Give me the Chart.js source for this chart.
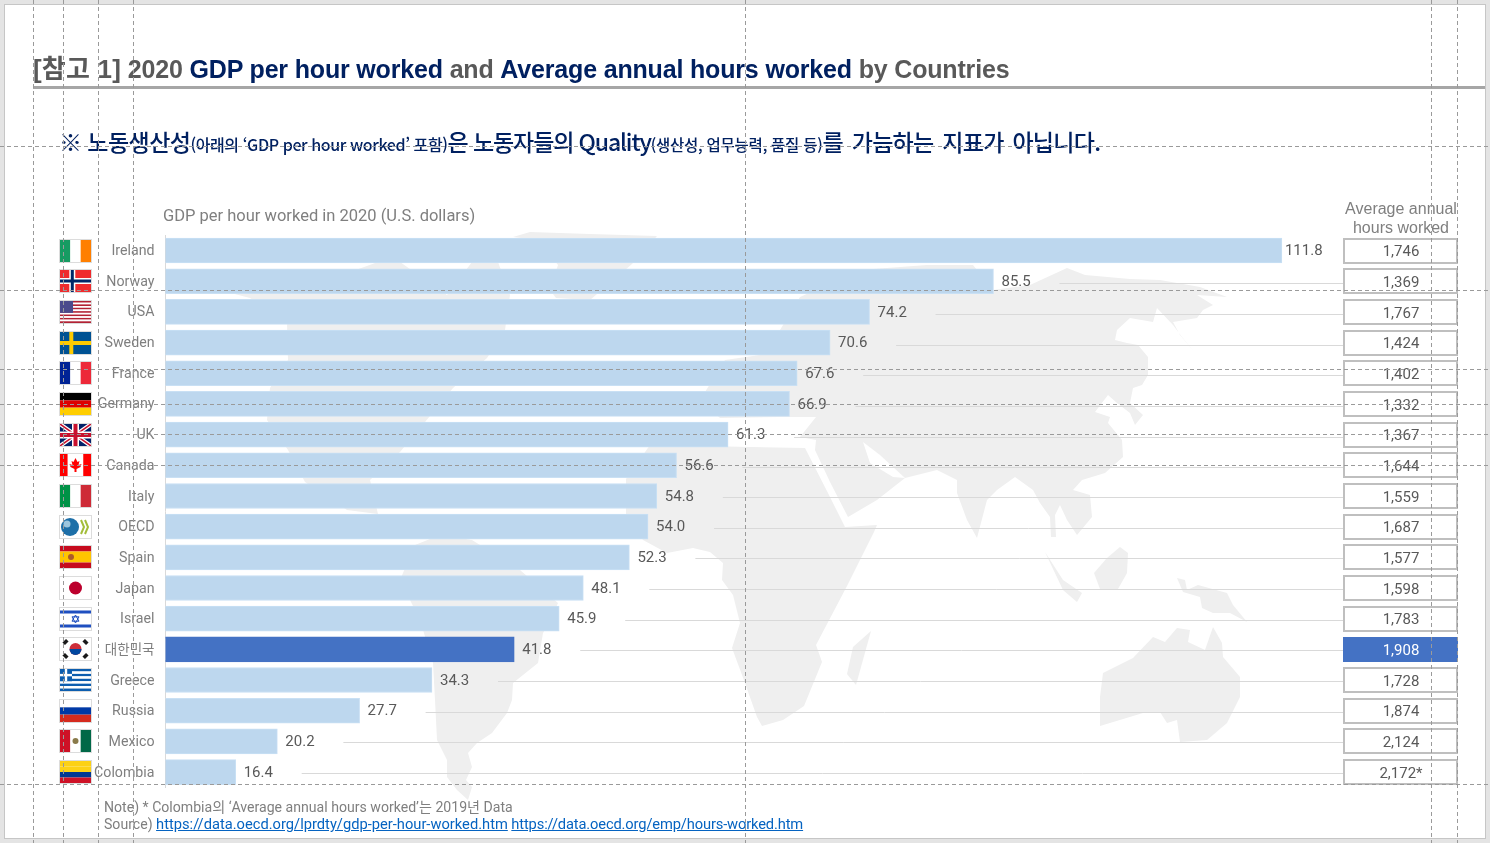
<!DOCTYPE html>
<html lang="ko">
<head>
<meta charset="utf-8">
<title>2020 GDP per hour worked</title>
<script src="https://cdn.jsdelivr.net/npm/chart.js"></script>
<style>
    html, body { margin: 0; padding: 0; width: 1490px; height: 843px; overflow: hidden; background: #e4e4e4; }
    #slide { position: absolute; left: 4px; top: 4px; width: 1480px; height: 833px; background: #fff; border: 1px solid #c6c6c6; }
    #map, #chart, #guides { position: absolute; left: 0; top: 0; }
    #guides { pointer-events: none; }
    .txt { position: absolute; white-space: nowrap; }
    #title { left: 33px; top: 48px; font: bold 25px "Liberation Sans", "Noto Sans CJK KR", sans-serif; color: #595959; letter-spacing: -0.17px; }
    #title b { color: #002060; }
    #title .tag { font-size: 26px; letter-spacing: 0.2px; }
    #rule { position: absolute; left: 33px; top: 86px; width: 1452px; height: 3px; background: #a6a6a6; }
    #notice { left: 59px; top: 124px; font: 500 23px "Noto Sans CJK KR", sans-serif; color: #002060; letter-spacing: -0.55px; }
    #notice .s1 { font-size: 16px; letter-spacing: -0.4px; }
    #notice .mid { letter-spacing: -1.1px; }
    #notice .s2 { font-size: 15.5px; letter-spacing: -0.25px; }
    #notice .tail { letter-spacing: -0.7px; word-spacing: 3px; }
    #gdpHead { left: 163px; top: 206px; font: 16.5px Roboto, "Noto Sans CJK KR", sans-serif; color: #7f7f7f; }
    #hoursHead { left: 1331px; width: 140px; top: 199px; text-align: center; font: 16px/19px "Liberation Sans", sans-serif; color: #7f7f7f; }
    #note { left: 104px; top: 799px; font: 14.1px/17px Roboto, "Noto Sans CJK KR", sans-serif; color: #7f7f7f; }
    #note a { color: #0563c1; text-decoration: underline; font-size: 14.7px; }
    #note a.second { letter-spacing: -0.14px; }
</style>
</head>
<body>
<div id="slide"></div>

<!-- world map behind the bars -->
<svg id="map" width="1490" height="843" fill="#efefef">
    <path d="M513 237L530 232L590 234L657 236L632 264L590 300L556 298L550 290L558 265L540 240Z"/>
    <path d="M227 292L300 290L378 262L400 262L447 295L472 262L498 262L510 295L505 330L487 358L453 388L425 422L400 452L370 480L378 514L347 510L305 482L288 450L267 420L270 388L288 360L287 322L250 298Z"/>
    <path d="M440 535L472 540L520 570L558 603L548 625L543 633L538 663L513 683L512 700L507 713L492 733L477 743L468 753L472 767L466 780L472 787L468 800L457 790L447 777L447 760L437 740L435 700L433 663L420 620L400 580L415 545Z"/>
    <path d="M720 418L700 400L725 360L760 355L780 330L800 297L860 270L927 265L973 265L993 290L1030 285L1067 268L1085 275L1130 279L1160 280L1200 287L1227 297L1197 295L1213 305L1203 310L1197 318L1173 322L1180 335L1195 353L1182 337L1173 325L1157 308L1153 322L1130 318L1117 330L1115 340L1127 343L1138 345L1148 357L1148 375L1142 385L1133 388L1130 403L1143 415L1135 425L1130 413L1117 403L1108 395L1095 412L1110 417L1108 423L1122 440L1123 457L1105 473L1082 480L1073 490L1090 495L1092 517L1077 535L1067 520L1060 505L1055 515L1056 537L1051 537L1050 517L1040 503L1033 490L1015 477L997 490L987 500L977 538L967 520L957 493L957 480L937 470L905 478L877 500L848 517L830 482L815 450L816 440L800 437L816 417L780 417Z"/>
    <path d="M863 442L870 463L893 477L905 478L880 455Z" fill="#fff"/>
    <path d="M650 445L805 448L830 497L845 527L877 525L874 532L847 586L816 645L822 662L804 706L783 720L762 726L757 717L745 683L732 648L740 623L733 595L722 580L723 563L710 552L693 548L667 553L643 540L626 515L626 479Z"/>
    <path d="M871 631L856 685L847 674L853 647Z"/>
    <path d="M1045 552L1063 580L1082 593L1077 602L1063 590Z"/>
    <path d="M1120 547L1128 553L1127 573L1118 589L1100 589L1094 573L1107 558Z"/>
    <path d="M1177 578L1185 580L1187 590L1198 585L1227 593L1233 605L1247 622L1230 613L1213 613L1202 608L1200 597L1183 592Z"/>
    <path d="M1103 673L1133 658L1153 637L1165 642L1177 628L1190 630L1188 642L1205 650L1213 627L1222 643L1223 657L1240 677L1240 697L1227 723L1207 740L1180 742L1177 720L1167 723L1160 712L1143 713L1100 726L1100 697Z"/>
</svg>

<canvas id="chart" width="1490" height="843"></canvas>

<div id="title" class="txt"><span class="tag">[참고 1]</span> 2020 <b>GDP per hour worked</b> and <b>Average annual hours worked</b> by Countries</div>
<div id="rule"></div>
<div id="notice" class="txt">※ 노동생산성<span class="s1">(아래의 ‘GDP per hour worked’ 포함)</span><span class="mid">은 노동자들의 Quality</span><span class="s2">(생산성, 업무능력, 품질 등)</span><span class="tail">를 가늠하는 지표가 아닙니다.</span></div>
<div id="gdpHead" class="txt">GDP per hour worked in 2020 (U.S. dollars)</div>
<div id="hoursHead" class="txt">Average annual<br>hours worked</div>
<div id="note" class="txt">Note) * Colombia의 ‘Average annual hours worked’는 2019년 Data<br>Source) <a href="https://data.oecd.org/lprdty/gdp-per-hour-worked.htm">https://data.oecd.org/lprdty/gdp-per-hour-worked.htm</a> <a class="second" href="https://data.oecd.org/emp/hours-worked.htm">https://data.oecd.org/emp/hours-worked.htm</a></div>

<svg id="guides" width="1490" height="843"></svg>

<script>
    'use strict';

    const categories = ['Ireland', 'Norway', 'USA', 'Sweden', 'France', 'Germany', 'UK', 'Canada', 'Italy', 'OECD', 'Spain', 'Japan', 'Israel', '대한민국', 'Greece', 'Russia', 'Mexico', 'Colombia'];
    const gdpPerHour = [111.8, 85.5, 74.2, 70.6, 67.6, 66.9, 61.3, 56.6, 54.8, 54.0, 52.3, 48.1, 45.9, 41.8, 34.3, 27.7, 20.2, 16.4];
    const annualHours = ['1,746', '1,369', '1,767', '1,424', '1,402', '1,332', '1,367', '1,644', '1,559', '1,687', '1,577', '1,598', '1,783', '1,908', '1,728', '1,874', '2,124', '2,172*'];

    const guideXs = [33, 63, 98, 133, 745, 1431, 1457];
    const guideYs = [146, 290, 369, 404, 434, 465, 784];

    const HIGHLIGHT = '대한민국';
    const LIGHT_BAR = '#bdd7ee';
    const DARK_BAR = '#4472c4';
    const TEXT_FONT = '15px Roboto, "Noto Sans CJK KR", sans-serif';

    // flag helpers
    function bands(ctx, x, y, w, h, colors, vertical) {
        colors.forEach((color, i) => {
            ctx.fillStyle = color;
            if (vertical) {
                ctx.fillRect(x + w * i / colors.length, y, w / colors.length, h);
            } else {
                ctx.fillRect(x, y + h * i / colors.length, w, h / colors.length);
            }
        });
    }

    function nordicCross(ctx, x, y, w, h, color, width) {
        ctx.fillStyle = color;
        ctx.fillRect(x + w * 0.3, y, width, h);
        ctx.fillRect(x, y + h / 2 - width / 2, w, width);
    }

    function disc(ctx, cx, cy, r, color) {
        ctx.fillStyle = color;
        ctx.beginPath();
        ctx.arc(cx, cy, r, 0, Math.PI * 2);
        ctx.fill();
    }

    const flagPainters = {
        Ireland: (c, x, y, w, h) => bands(c, x, y, w, h, ['#169b62', '#ffffff', '#ff7f00'], true),
        Norway: (c, x, y, w, h) => {
            c.fillStyle = '#ef2b2d';
            c.fillRect(x, y, w, h);
            nordicCross(c, x, y, w, h, '#ffffff', 6);
            c.fillStyle = '#002868';
            c.fillRect(x + w * 0.3 + 1.5, y, 3, h);
            c.fillRect(x, y + h / 2 - 1.5, w, 3);
        },
        USA: (c, x, y, w, h) => {
            for (let i = 0; i < 13; i++) {
                c.fillStyle = i % 2 ? '#ffffff' : '#b22234';
                c.fillRect(x, y + h * i / 13, w, h / 13);
            }
            c.fillStyle = '#4a4a8c';
            c.fillRect(x, y, w * 0.42, h * 0.54);
        },
        Sweden: (c, x, y, w, h) => {
            c.fillStyle = '#005293';
            c.fillRect(x, y, w, h);
            nordicCross(c, x, y, w, h, '#fecb00', 4);
        },
        France: (c, x, y, w, h) => bands(c, x, y, w, h, ['#002395', '#ffffff', '#ed2939'], true),
        Germany: (c, x, y, w, h) => bands(c, x, y, w, h, ['#000000', '#dd0000', '#ffce00'], false),
        UK: (c, x, y, w, h) => {
            c.fillStyle = '#012169';
            c.fillRect(x, y, w, h);
            c.save();
            c.beginPath();
            c.rect(x, y, w, h);
            c.clip();
            [['#ffffff', 4], ['#c8102e', 1.5]].forEach(([color, width]) => {
                c.strokeStyle = color;
                c.lineWidth = width;
                c.beginPath();
                c.moveTo(x, y);
                c.lineTo(x + w, y + h);
                c.moveTo(x + w, y);
                c.lineTo(x, y + h);
                c.stroke();
            });
            c.restore();
            c.fillStyle = '#ffffff';
            c.fillRect(x + w / 2 - 3.5, y, 7, h);
            c.fillRect(x, y + h / 2 - 3.5, w, 7);
            c.fillStyle = '#c8102e';
            c.fillRect(x + w / 2 - 2, y, 4, h);
            c.fillRect(x, y + h / 2 - 2, w, 4);
        },
        Canada: (c, x, y, w, h) => {
            bands(c, x, y, w, h, ['#ff0000', '#ffffff', '#ffffff', '#ff0000'], true);
            const cx = x + w / 2, cy = y + h / 2;
            c.fillStyle = '#ff0000';
            c.beginPath();
            [[0, -7], [2, -3], [4, -4], [3, 0], [6, -1], [5, 2], [1, 4], [1, 7], [-1, 7], [-1, 4], [-5, 2], [-6, -1], [-3, 0], [-4, -4], [-2, -3]]
                .forEach(([dx, dy]) => c.lineTo(cx + dx, cy + dy));
            c.fill();
        },
        Italy: (c, x, y, w, h) => bands(c, x, y, w, h, ['#009246', '#ffffff', '#ce2b37'], true),
        OECD: (c, x, y, w, h) => {
            c.fillStyle = '#ffffff';
            c.fillRect(x, y, w, h);
            disc(c, x + 10, y + h / 2, 9, '#1d6fa8');
            disc(c, x + 7, y + h / 2 - 3, 3.5, '#9cc6de');
            c.strokeStyle = '#a3bd3a';
            c.lineWidth = 2;
            [21, 25].forEach(dx => {
                c.beginPath();
                c.moveTo(x + dx, y + 4);
                c.lineTo(x + dx + 3, y + h / 2);
                c.lineTo(x + dx, y + h - 4);
                c.stroke();
            });
        },
        Spain: (c, x, y, w, h) => {
            bands(c, x, y, w, h, ['#c60b1e', '#ffc400', '#ffc400', '#c60b1e'], false);
            disc(c, x + 11, y + h / 2, 3, '#ad5a2a');
        },
        Japan: (c, x, y, w, h) => {
            c.fillStyle = '#ffffff';
            c.fillRect(x, y, w, h);
            disc(c, x + w / 2, y + h / 2, 6.5, '#bc002d');
        },
        Israel: (c, x, y, w, h) => {
            c.fillStyle = '#ffffff';
            c.fillRect(x, y, w, h);
            c.fillStyle = '#1f4fc0';
            c.fillRect(x, y + 2.5, w, 3);
            c.fillRect(x, y + h - 5.5, w, 3);
            c.strokeStyle = '#1f4fc0';
            c.lineWidth = 1;
            const cx = x + w / 2, cy = y + h / 2;
            [1, -1].forEach(s => {
                c.beginPath();
                c.moveTo(cx, cy - 4 * s);
                c.lineTo(cx + 3.5, cy + 2.2 * s);
                c.lineTo(cx - 3.5, cy + 2.2 * s);
                c.closePath();
                c.stroke();
            });
        },
        '대한민국': (c, x, y, w, h) => {
            c.fillStyle = '#ffffff';
            c.fillRect(x, y, w, h);
            const cx = x + w / 2, cy = y + h / 2;
            disc(c, cx, cy, 6, '#cd2e3a');
            c.fillStyle = '#0047a0';
            c.beginPath();
            c.arc(cx, cy, 6, 0, Math.PI);
            c.fill();
            c.fillStyle = '#1a1a1a';
            [[-10, -7], [10, -7], [-10, 7], [10, 7]].forEach(([dx, dy]) => {
                c.save();
                c.translate(cx + dx, cy + dy);
                c.rotate(dx * dy > 0 ? 0.8 : -0.8);
                c.fillRect(-1.8, -2.5, 3.6, 5);
                c.restore();
            });
        },
        Greece: (c, x, y, w, h) => {
            for (let i = 0; i < 9; i++) {
                c.fillStyle = i % 2 ? '#ffffff' : '#0d5eaf';
                c.fillRect(x, y + h * i / 9, w, h / 9);
            }
            c.fillStyle = '#0d5eaf';
            c.fillRect(x, y, 12, h * 5 / 9);
            c.fillStyle = '#ffffff';
            c.fillRect(x + 4.8, y, 2.4, h * 5 / 9);
            c.fillRect(x, y + h * 2 / 9, 12, h / 9);
        },
        Russia: (c, x, y, w, h) => bands(c, x, y, w, h, ['#ffffff', '#0039a6', '#d52b1e'], false),
        Mexico: (c, x, y, w, h) => {
            bands(c, x, y, w, h, ['#ce1126', '#ffffff', '#006847'], true);
            disc(c, x + w / 2, y + h / 2, 3, '#8a7a4a');
        },
        Colombia: (c, x, y, w, h) => bands(c, x, y, w, h, ['#fcd116', '#fcd116', '#003893', '#ce1126'], false)
    };

    // Flags, leader lines, value labels and the hours column are all placed from the scales
    const rowDecorations = {
        id: 'rowDecorations',
        beforeDatasetsDraw(chart) {
            const ctx = chart.ctx;
            const xScale = chart.scales.x;
            const yScale = chart.scales.y;
            ctx.save();
            ctx.strokeStyle = '#d9d9d9';
            ctx.lineWidth = 1;
            gdpPerHour.forEach((value, i) => {
                const start = xScale.getPixelForValue(value) + 66;
                if (start >= 1343) return; // longest bar has no leader
                const y = Math.round(yScale.getPixelForValue(i)) + (i < 8 ? 2.5 : 1.5);
                ctx.beginPath();
                ctx.moveTo(start, y);
                ctx.lineTo(1343, y);
                ctx.stroke();
            });
            ctx.restore();
        },
        afterDatasetsDraw(chart) {
            const ctx = chart.ctx;
            const xScale = chart.scales.x;
            const yScale = chart.scales.y;
            ctx.save();
            ctx.font = TEXT_FONT;
            ctx.textBaseline = 'middle';
            categories.forEach((name, i) => {
                const y = yScale.getPixelForValue(i);

                // flag
                const flagTop = Math.round(y) - 11;
                flagPainters[name](ctx, 60, flagTop, 31, 22);
                ctx.strokeStyle = '#dcdcdc';
                ctx.lineWidth = 1;
                ctx.strokeRect(59.5, flagTop - 0.5, 32, 23);

                // value next to the bar, tighter on the longest one
                ctx.fillStyle = '#595959';
                ctx.textAlign = 'left';
                ctx.fillText(gdpPerHour[i].toFixed(1), xScale.getPixelForValue(gdpPerHour[i]) + (i === 0 ? 3 : 8), y + 1);

                // annual hours box
                const isHighlight = name === HIGHLIGHT;
                const boxTop = Math.round(y) - 12;
                if (isHighlight) {
                    ctx.fillStyle = DARK_BAR;
                    ctx.fillRect(1343, boxTop, 115, 25);
                } else {
                    ctx.fillStyle = '#ffffff';
                    ctx.fillRect(1344, boxTop, 113, 24);
                    ctx.strokeStyle = '#bfbfbf';
                    ctx.lineWidth = 2;
                    ctx.strokeRect(1344, boxTop, 113, 24);
                }
                ctx.fillStyle = isHighlight ? '#ffffff' : '#595959';
                ctx.textAlign = 'center';
                ctx.fillText(annualHours[i], 1401, y + 2);
            });
            ctx.restore();
        }
    };

    const barColors = categories.map(name => name === HIGHLIGHT ? DARK_BAR : LIGHT_BAR);
    const barBorders = categories.map(name => name === HIGHLIGHT ? DARK_BAR : '#c9e0f4');

    new Chart(document.getElementById('chart').getContext('2d'), {
        type: 'bar',
        data: {
            labels: categories,
            datasets: [{
                label: 'GDP per hour worked',
                data: gdpPerHour,
                backgroundColor: barColors,
                borderColor: barBorders,
                borderWidth: 1,
                barThickness: 25
            }]
        },
        options: {
            indexAxis: 'y',
            responsive: false,
            animation: false,
            layout: { padding: { left: 0, right: 173, top: 235.2, bottom: 55.6 } },
            plugins: { legend: { display: false }, tooltip: { enabled: false } },
            scales: {
                x: { type: 'linear', min: 10, max: 115, display: false },
                y: {
                    afterFit: scale => { scale.width = 165.5; },
                    grid: { display: true, drawOnChartArea: false, drawTicks: false },
                    border: { display: true, color: '#d9d9d9', width: 1 },
                    ticks: {
                        padding: 11,
                        labelOffset: 1,
                        autoSkip: false,
                        color: '#7f7f7f',
                        font: context => ({
                            family: 'Roboto, "Noto Sans CJK KR", sans-serif',
                            size: context.tick && context.tick.label === HIGHLIGHT ? 13.5 : 14.2
                        })
                    }
                }
            }
        },
        plugins: [rowDecorations]
    });

    // dashed layout guides over the page
    const guideSvg = document.getElementById('guides');
    function addGuide(x1, y1, x2, y2) {
        const line = document.createElementNS('http://www.w3.org/2000/svg', 'line');
        line.setAttribute('x1', x1);
        line.setAttribute('y1', y1);
        line.setAttribute('x2', x2);
        line.setAttribute('y2', y2);
        line.setAttribute('stroke', '#9a9a9a');
        line.setAttribute('stroke-dasharray', '4 3');
        guideSvg.appendChild(line);
    }
    guideXs.forEach(x => addGuide(x + 0.5, 0, x + 0.5, 843));
    guideYs.forEach(y => addGuide(0, y + 0.5, 1490, y + 0.5));
</script>
</body>
</html>
